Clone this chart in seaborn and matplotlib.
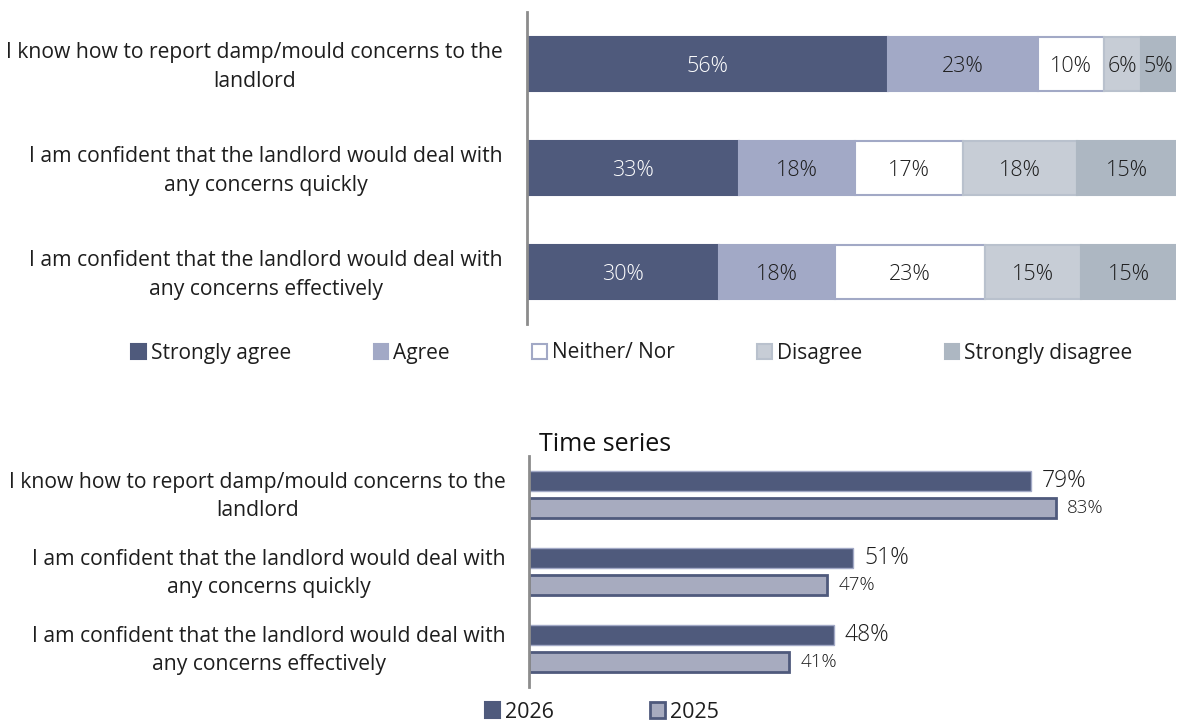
import numpy as np
import pandas as pd
import matplotlib
matplotlib.use("Agg")
import matplotlib.pyplot as plt
import matplotlib.transforms as mtrans
import seaborn as sns
from matplotlib.patches import Patch

sns.set_theme(style="white")
plt.rcParams['font.family'] = ['Open Sans', 'DejaVu Sans']

# ---------------- data ----------------
statements = [
    "I know how to report damp/mould concerns to the\nlandlord",
    "I am confident that the landlord would deal with\nany concerns quickly",
    "I am confident that the landlord would deal with\nany concerns effectively",
]
responses = ["Strongly agree", "Agree", "Neither/ Nor", "Disagree", "Strongly disagree"]
strongly_agree = [55.6, 32.6, 29.6]
agree = [23.1, 17.9, 17.8]
neither = [10.2, 16.7, 23.2]
disagree = [5.7, 17.6, 14.8]
strongly_disagree = [5.4, 15.2, 14.6]

years = ["2026", "2025"]
agree_2026 = [79, 51, 48]
agree_2025 = [83, 47, 41]

# ---------------- style ----------------
c_sa = "#4F5A7C"
c_a = "#A2A9C6"
c_n = "#FFFFFF"
c_d = "#C7CDD6"
c_sd = "#ADB7C2"
seg_colors = [c_sa, c_a, c_n, c_d, c_sd]
seg_edges = [c_sa, c_a, c_a, "#B9C1CD", c_sd]
txt_colors = ["white", "#1E1E1E", "#1E1E1E", "#1E1E1E", "#1E1E1E"]
c_2026 = "#4F5A7C"
c_2025 = "#A7ABBF"
spine_c = "#8C8C8C"
label_fs = 15.2
ls = 1.45

fig = plt.figure(figsize=(11.81, 7.22), dpi=100)


def category_labels(ax, pad_px=23, dy_px=3):
    """Draw the statement labels as centred multi-line text left of the axis."""
    ticks = ax.get_yticks()
    ax.set_yticklabels([])
    trans = mtrans.blended_transform_factory(ax.transAxes, ax.transData) + \
        mtrans.ScaledTranslation(-pad_px / fig.dpi, dy_px / fig.dpi, fig.dpi_scale_trans)
    for t, s in zip(ticks, statements):
        ax.text(0, t, s, transform=trans, ha="right", va="center",
                multialignment="center", linespacing=ls, fontsize=label_fs,
                color="#1E1E1E")


# ---------------- top stacked chart ----------------
ax1 = fig.add_axes([527 / 1181, 1 - 324 / 722, 649 / 1181, 312 / 722])
series = [strongly_agree, agree, neither, disagree, strongly_disagree]
left = np.zeros(len(statements))
for name, vals, fc, ec, tc in zip(responses, series, seg_colors, seg_edges, txt_colors):
    df = pd.DataFrame({"statement": statements, "value": vals})
    sns.barplot(data=df, x="value", y="statement", orient="y", ax=ax1,
                color=fc, edgecolor=ec, linewidth=1.5, width=0.52,
                errorbar=None, left=left.copy(), saturation=1)
    cont = ax1.containers[-1]
    texts = ax1.bar_label(cont, labels=[f"{v:.0f}%" for v in vals], label_type="center",
                          color=tc, fontsize=15.5, fontweight="light")
    for t in texts:
        t.set_va("center_baseline")
    left = left + np.array(vals)

ax1.set_xlim(0, 100)
ax1.set_ylim(2.5, -0.5)
ax1.set_xlabel("")
ax1.set_ylabel("")
ax1.set_xticks([])
ax1.tick_params(axis="y", length=0)
category_labels(ax1, pad_px=24, dy_px=-3)
for s in ["top", "right", "bottom"]:
    ax1.spines[s].set_visible(False)
ax1.spines["left"].set_color(spine_c)
ax1.spines["left"].set_linewidth(2)

handles1 = [Patch(facecolor=fc, edgecolor=ec, linewidth=1.5, label=n)
            for n, fc, ec in zip(responses, seg_colors, seg_edges)]
fig.legend(handles=handles1, loc="center", bbox_to_anchor=(632 / 1181, 1 - 353 / 722),
           ncol=5, frameon=False, fontsize=15, handlelength=0.7, handleheight=0.7,
           handletextpad=0.25, columnspacing=3.95, labelcolor="#1E1E1E")

# ---------------- bottom time series chart ----------------
ax2 = fig.add_axes([529 / 1181, 1 - 687 / 722, 635 / 1181, 231 / 722])
long = pd.DataFrame({
    "statement": statements * 2,
    "year": ["2026"] * 3 + ["2025"] * 3,
    "value": agree_2026 + agree_2025,
})
sns.barplot(data=long, x="value", y="statement", hue="year", hue_order=years,
            orient="y", ax=ax2, palette=[c_2026, c_2025], width=0.68, gap=0.24,
            errorbar=None, saturation=1, legend=False, linewidth=1.5)
cont26, cont25 = ax2.containers[0], ax2.containers[1]
for p in cont26:
    p.set_edgecolor("#A2A9C6")
    p.set_linewidth(1.0)
for p in cont25:
    p.set_edgecolor(c_2026)
    p.set_linewidth(2.0)
ax2.bar_label(cont26, labels=[f"{v}%" for v in agree_2026], padding=8,
              fontsize=16.5, color="#1E1E1E", fontweight="light")
ax2.bar_label(cont25, labels=[f"{v}%" for v in agree_2025], padding=8,
              fontsize=13.5, color="#1E1E1E", fontweight="light")
ax2.set_xlim(0, 100)
ax2.set_ylim(2.5, -0.5)
ax2.set_xlabel("")
ax2.set_ylabel("")
ax2.set_xticks([])
ax2.tick_params(axis="y", length=0)
category_labels(ax2, pad_px=23, dy_px=-2)
for s in ["top", "right", "bottom"]:
    ax2.spines[s].set_visible(False)
ax2.spines["left"].set_color(spine_c)
ax2.spines["left"].set_linewidth(2)
ax2.text(0.015, 0.995, "Time series", transform=ax2.transAxes, fontsize=18,
         color="#111111", ha="left", va="bottom")

handles2 = [Patch(facecolor=c_2026, edgecolor=c_2026, linewidth=1.5, label="2026"),
            Patch(facecolor=c_2025, edgecolor=c_2026, linewidth=2, label="2025")]
fig.legend(handles=handles2, loc="center", bbox_to_anchor=(602 / 1181, 1 - 712 / 722),
           ncol=2, frameon=False, fontsize=15.5, handlelength=0.7, handleheight=0.7,
           handletextpad=0.25, columnspacing=4.45, labelcolor="#1E1E1E")

fig.savefig("out.png", dpi=100, facecolor="white")
